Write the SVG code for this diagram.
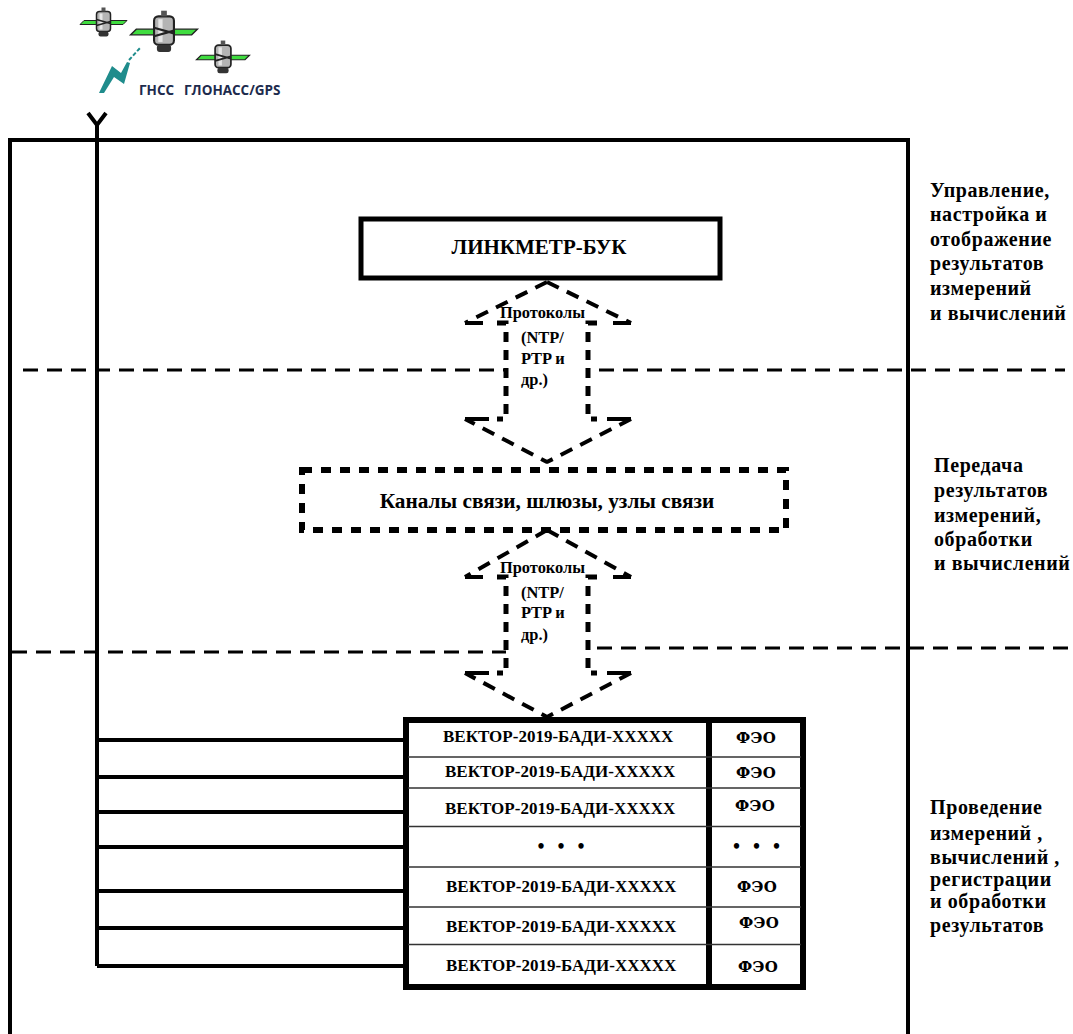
<svg xmlns="http://www.w3.org/2000/svg" xmlns:xlink="http://www.w3.org/1999/xlink" width="1073" height="1034" viewBox="0 0 1073 1034">
<style>
text{font-family:"Liberation Serif","DejaVu Serif",serif;font-weight:bold;fill:#000}
.side{font-size:20px;letter-spacing:.6px}
.vek{font-size:17px}
.feo{font-family:"DejaVu Serif",serif;font-size:15px;letter-spacing:.3px}
.prot{font-size:16.4px}
.gl{font-family:"Open Sans","Liberation Sans",sans-serif;font-size:13.5px;fill:#1d2b4d}
.ln{fill:none;stroke:#000}
.fill{fill:#fff;stroke:none}
.head{fill:none;stroke:#000;stroke-width:4;stroke-dasharray:13 9;stroke-linejoin:bevel}
.stub{fill:none;stroke:#000;stroke-width:4}
.shaft{fill:none;stroke:#000;stroke-width:5;stroke-dasharray:10 8;stroke-linejoin:miter}
.hd{fill:none;stroke:#000;stroke-width:3;stroke-dasharray:15 9}
.row{stroke:#333;stroke-width:1.5}
</style>
<defs>
<g id="sat">
<path d="M-23.500 2 L-19.500 -2 H-2 V2 Z M2 -2 H23.500 L19.500 2 H2 Z" fill="#3fdc3f" stroke="#222" stroke-width="1"/>
<rect x="-7" y="-11" width="14" height="20" rx="3" fill="#b4b4b4" stroke="#222" stroke-width="1.500"/>
<rect x="-4" y="-9" width="3" height="16" fill="#e6e6e6"/>
<rect x="-2" y="-15" width="4" height="4" fill="#555"/>
<rect x="-5" y="9" width="10" height="5" rx="2" fill="#333"/>
<path d="M-7 -3 L7 1 M-7 3 L7 -1" stroke="#222" stroke-width="1.600" fill="none"/>
</g>
</defs>
<rect width="1073" height="1034" fill="#fff"/>
<g id="satellites">
<use xlink:href="#sat" href="#sat" transform="translate(103.500 22.500)"/>
<use xlink:href="#sat" href="#sat" transform="translate(164 32) scale(1.42)"/>
<use xlink:href="#sat" href="#sat" transform="translate(223 57.500) scale(1.13)"/>
<path d="M99 93 L112 66 L121 73 L127 62 L130 63 L124 84 L114 77 L104 93 Z" fill="#1f8c8c"/>
<path d="M129 60 L140 48" stroke="#1f8c8c" stroke-width="2" stroke-dasharray="4 2" fill="none"/>
<text class="gl" x="139" y="95">ГНСС</text>
<text class="gl" x="184" y="95">ГЛОНАСС/GPS</text>
</g>
<g id="frame"><path class="ln" stroke-width="4" d="M10 1034 V140 H908 V1034"/></g>
<g id="zone-lines">
<path class="hd" d="M23 370 H1065"/>
<path class="hd" d="M12 652 H510"/>
<path class="hd" d="M597 648 H1075"/>
</g>
<g id="connectors">
<path class="ln" stroke-width="4" d="M88 113 L97 125 L106 113 M97 125 V966 M97 740 H404 M97 777 H404 M97 812 H404 M97 847 H404 M97 891 H404 M97 928 H404 M97 966 H404"/>
<g id="arrow-1">
<path class="fill" d="M547 282 L631 323 H588 V419 H631 L547 462 L465 419 H506 V323 H465 Z"/>
<path class="head" d="M547 282 L631 323"/>
<path class="head" d="M547 282 L465 323"/>
<path class="stub" d="M465 323 H483 M613 323 H631 M465 419 H489 M607 419 H631"/>
<path class="shaft" d="M597 323 H588 V419 H597"/>
<path class="shaft" d="M497 323 H506 V419 H497"/>
<path class="head" d="M631 419 L547 462 L465 419"/>
</g>
<g id="arrow-2">
<path class="fill" d="M547 530 L631 577 H588 V673 H631 L547 717 L465 673 H506 V577 H465 Z"/>
<path class="head" d="M547 530 L631 577"/>
<path class="head" d="M547 530 L465 577"/>
<path class="stub" d="M465 577 H483 M613 577 H631 M465 673 H489 M607 673 H631"/>
<path class="shaft" d="M597 577 H588 V673 H597"/>
<path class="shaft" d="M497 577 H506 V673 H497"/>
<path class="head" d="M631 673 L547 717 L465 673"/>
</g>
</g>
<g id="node-linkmeter">
<rect class="ln" x="361" y="219" width="359" height="59" stroke-width="5"/>
<text x="539" y="254" font-size="21" text-anchor="middle">ЛИНКМЕТР-БУК</text>
</g>
<g id="node-channels">
<rect x="302" y="470" width="484" height="60" fill="#fff" stroke="#000" stroke-width="6" stroke-dasharray="10 9"/>
<text x="547" y="508" font-size="21.300" text-anchor="middle">Каналы связи, шлюзы, узлы связи</text>
</g>
<g id="label-protocols-1">
<text class="prot" x="500" y="318">Протоколы</text>
<text class="prot" x="521" y="343">(NTP/</text>
<text class="prot" x="521" y="364">PTP и</text>
<text class="prot" x="521" y="385">др.)</text>
</g>
<g id="label-protocols-2">
<text class="prot" x="500" y="573">Протоколы</text>
<text class="prot" x="521" y="598">(NTP/</text>
<text class="prot" x="521" y="618">PTP и</text>
<text class="prot" x="521" y="640">др.)</text>
</g>
<g id="node-table">
<rect x="406" y="720" width="397" height="267" fill="#fff" stroke="#000" stroke-width="6"/>
<path class="ln" stroke-width="6" d="M709 720 V987"/>
<path class="row" d="M408 757 H801 M408 788 H801 M408 826.500 H801 M408 867 H801 M408 907 H801 M408 944.500 H801"/>
<text class="vek" x="443" y="742">ВЕКТОР-2019-БАДИ-XXXXX</text>
<text class="vek" x="445" y="777">ВЕКТОР-2019-БАДИ-XXXXX</text>
<text class="vek" x="445" y="814">ВЕКТОР-2019-БАДИ-XXXXX</text>
<text class="vek" x="446" y="892">ВЕКТОР-2019-БАДИ-XXXXX</text>
<text class="vek" x="446" y="932">ВЕКТОР-2019-БАДИ-XXXXX</text>
<text class="vek" x="446" y="971">ВЕКТОР-2019-БАДИ-XXXXX</text>
<text class="feo" x="736" y="743">ФЭО</text>
<text class="feo" x="736" y="778">ФЭО</text>
<text class="feo" x="735" y="811">ФЭО</text>
<text class="feo" x="737" y="892">ФЭО</text>
<text class="feo" x="739" y="928">ФЭО</text>
<text class="feo" x="738" y="972">ФЭО</text>
<text x="561.500" y="853" font-size="20" text-anchor="middle" letter-spacing="1" xml:space="preserve">•  •  •</text>
<text x="757" y="853" font-size="20" text-anchor="middle" letter-spacing="1" xml:space="preserve">•  •  •</text>
</g>
<g id="side-labels">
<text class="side" x="930" y="197">Управление,</text>
<text class="side" x="930" y="221">настройка и</text>
<text class="side" x="930" y="246">отображение</text>
<text class="side" x="930" y="270">результатов</text>
<text class="side" x="930" y="295">измерений</text>
<text class="side" x="930" y="320">и вычислений</text>
<text class="side" x="934" y="472">Передача</text>
<text class="side" x="934" y="497">результатов</text>
<text class="side" x="934" y="522">измерений,</text>
<text class="side" x="934" y="546">обработки</text>
<text class="side" x="934" y="570">и вычислений</text>
<text class="side" x="930" y="814">Проведение</text>
<text class="side" x="930" y="840">измерений ,</text>
<text class="side" x="930" y="864">вычислений ,</text>
<text class="side" x="930" y="886">регистрации</text>
<text class="side" x="930" y="908">и обработки</text>
<text class="side" x="930" y="932">результатов</text>
</g>
</svg>
